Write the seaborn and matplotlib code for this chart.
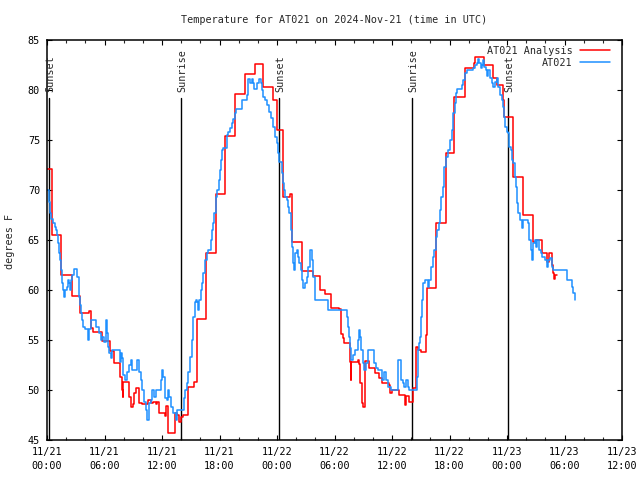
import matplotlib
matplotlib.use("Agg")
import matplotlib.pyplot as plt
import matplotlib.ticker as tkr
import seaborn as sns
import pandas as pd

# hours since 2024-11-21 00:00 UTC, temperature in degrees F
analysis_hr = [0.0, 0.55, 1.5, 2.6, 3.44, 4.42, 4.56, 4.83, 5.70, 6.57, 6.99, 7.62, 7.79, 7.90,
               7.97, 8.59, 8.77, 8.94, 9.11, 9.25, 9.63, 9.88, 10.57, 10.82, 11.1, 11.37, 11.51,
               11.72, 12.35, 12.45, 12.62, 13.4, 13.6, 13.81, 13.95, 14.16, 14.68, 14.75, 15.34,
               15.62, 16.56, 17.64, 18.57, 19.62, 20.66, 21.7, 22.57, 23.61, 23.96, 24.59, 25.4,
               25.53, 26.57, 27.79, 28.49, 29.04, 29.64, 30.5, 30.68, 30.85, 31.02, 31.62, 31.67,
               31.76, 32.42, 32.52, 32.66, 32.87, 33.0, 33.15, 33.22, 33.63, 34.2, 34.61, 34.96,
               35.65, 35.79, 36.0, 36.77, 37.39, 37.46, 37.8, 38.23, 38.5, 38.7, 39.03, 39.55,
               39.65, 40.62, 41.6, 42.5, 43.62, 44.56, 44.66, 45.6, 46.51, 46.99, 47.55, 47.69,
               48.66, 49.63, 50.68, 51.0, 51.62, 52.21, 52.4, 52.66, 52.76, 52.9, 53.05, 53.18]
analysis_temp = [72.1, 65.5, 61.5, 59.4, 57.7, 57.9, 56.2, 55.8, 54.9, 53.9, 52.7, 51.3, 50.0, 49.3,
                 50.8, 49.3, 48.3, 48.6, 49.7, 50.2, 48.7, 48.6, 49.0, 48.7, 48.8, 48.6, 48.8,
                 47.7, 47.4, 48.4, 45.7, 47.7, 47.5, 46.8, 47.3, 47.5, 50.0, 50.3, 50.8,
                 57.1, 63.7, 69.6, 75.4, 79.6, 81.6, 82.6, 80.3, 79.0, 76.0, 69.3, 69.6,
                 64.8, 61.9, 61.4, 60.0, 59.6, 58.2, 58.1, 55.6, 55.2, 54.7, 52.8, 51.0,
                 52.8, 53.0, 52.6, 50.7, 48.7, 48.3, 50.0, 52.9, 52.2, 51.7, 51.2, 50.7,
                 50.5, 49.7, 50.0, 49.5, 48.5, 49.4, 48.8, 50.2, 54.3, 54.0, 53.8, 55.5,
                 60.2, 66.7, 73.7, 79.3, 82.2, 82.7, 83.3, 82.5, 81.2, 80.5, 79.0, 77.3,
                 71.3, 67.5, 64.8, 65.0, 63.7, 62.8, 63.7, 62.5, 61.7, 61.1, 61.5, 61.5]

station_hr = [0.0, 0.21, 0.31, 0.45, 0.66, 0.8, 0.94, 1.08, 1.15, 1.29, 1.36, 1.43, 1.6, 1.7, 1.77,
              1.84, 2.05, 2.19, 2.3, 2.4, 2.54, 2.64, 2.82, 3.09, 3.34, 3.44, 3.58, 3.69, 3.79,
              3.93, 4.28, 4.38, 4.56, 4.63, 5.08, 5.43, 5.6, 5.77, 5.95, 6.12, 6.23, 6.37, 6.47,
              6.64, 6.82, 7.62, 7.76, 7.86, 7.97, 8.11, 8.32, 8.56, 8.73, 8.91, 9.43, 9.6, 9.78,
              9.95, 10.12, 10.3, 10.47, 10.64, 10.82, 10.99, 11.17, 11.34, 11.93, 12.04, 12.14,
              12.28, 12.49, 12.63, 12.73, 12.9, 13.18, 13.43, 13.53, 14.3, 14.4, 14.57, 14.75,
              14.92, 15.1, 15.27, 15.44, 15.55, 15.69, 15.79, 15.9, 16.03, 16.14, 16.31, 16.49,
              16.66, 16.83, 17.08, 17.18, 17.36, 17.46, 17.64, 17.77, 17.91, 18.05, 18.12, 18.26,
              18.4, 18.75, 18.92, 19.1, 19.27, 19.44, 19.62, 19.72, 20.31, 20.83, 21.01, 21.18,
              21.35, 21.46, 21.6, 21.95, 22.16, 22.3, 22.4, 22.57, 22.75, 22.99, 23.2, 23.34,
              23.55, 23.79, 23.96, 24.14, 24.24, 24.49, 24.59, 24.73, 24.83, 25.01, 25.18, 25.28,
              25.42, 25.53, 25.63, 25.77, 25.88, 26.05, 26.23, 26.33, 26.47, 26.57, 26.75, 26.92,
              27.1, 27.27, 27.44, 27.62, 27.79, 27.97, 29.29, 31.27, 31.37, 31.48, 31.62, 31.76,
              31.97, 32.17, 32.42, 32.59, 32.7, 32.77, 32.94, 33.11, 33.29, 33.46, 34.16, 34.33,
              34.51, 34.96, 35.2, 35.37, 35.55, 35.9, 36.59, 36.94, 37.11, 37.29, 37.46, 37.63,
              37.81, 38.57, 38.68, 38.78, 38.92, 39.03, 39.13, 39.27, 39.48, 39.73, 39.9, 40.07,
              40.24, 40.42, 40.59, 40.69, 40.87, 41.01, 41.11, 41.29, 41.46, 41.64, 41.81, 42.05,
              42.23, 42.4, 42.58, 42.68, 42.82, 43.27, 43.45, 43.62, 43.79, 44.42, 44.66, 44.9,
              45.01, 45.11, 45.25, 45.35, 45.53, 45.63, 45.81, 45.95, 46.05, 46.23, 46.4, 46.58,
              46.75, 46.92, 47.1, 47.27, 47.44, 47.62, 47.72, 47.83, 47.97, 48.14, 48.25, 48.39,
              48.49, 48.66, 48.84, 48.94, 49.01, 49.18, 49.36, 49.53, 49.71, 50.23, 50.33, 50.47,
              50.58, 50.75, 50.92, 51.03, 51.17, 51.37, 51.51, 51.62, 51.97, 52.14, 52.31, 52.49,
              52.66, 52.83, 54.3, 54.75, 54.92, 55.1]
station_temp = [70.0, 68.8, 67.7, 67.1, 66.7, 66.3, 66.0, 65.5, 64.7, 63.7, 63.0, 62.0, 60.7, 60.0, 59.3,
                60.0, 60.3, 61.0, 60.7, 60.0, 61.0, 61.5, 62.1, 61.3, 59.3, 58.5, 57.7, 57.0, 56.3,
                56.1, 55.0, 56.1, 56.7, 57.0, 56.3, 55.7, 55.0, 55.3, 54.8, 57.0, 55.7, 54.3, 53.7,
                53.2, 54.0, 52.8, 53.7, 53.2, 51.5, 51.0, 51.8, 52.5, 53.0, 52.0, 53.0, 51.8, 51.0,
                50.0, 48.8, 48.0, 47.0, 48.7, 49.0, 50.0, 49.3, 50.0, 51.0, 52.0, 51.3,
                49.2, 49.0, 50.0, 49.3, 48.3, 47.7, 47.0, 48.0, 49.2, 50.0, 50.7, 51.8,
                53.3, 55.0, 57.3, 58.8, 59.0, 58.8, 58.0, 59.0, 60.0, 60.7, 61.7, 63.0,
                63.7, 64.0, 65.0, 66.0, 66.7, 67.7, 69.3, 70.0, 71.0, 72.0, 73.0, 74.0,
                74.2, 75.5, 75.8, 76.2, 76.7, 77.1, 77.7, 78.1, 79.0, 79.5, 81.1, 80.7,
                81.1, 80.7, 80.1, 80.7, 81.1, 80.7, 80.0, 79.3, 79.0, 78.5, 77.8, 77.2,
                76.3, 75.3, 74.7, 73.7, 72.8, 71.7, 70.7, 70.0, 69.3, 69.0, 68.3, 67.7,
                66.0, 64.3, 62.7, 62.0, 63.7, 64.0, 63.3, 62.7, 62.0, 61.0, 60.2, 60.7,
                61.3, 62.3, 64.0, 63.0, 61.3, 59.0, 58.0, 57.3, 56.3, 55.3, 54.2, 53.0,
                53.5, 54.0, 55.0, 56.0, 55.3, 54.0, 52.7, 52.0, 52.7, 54.0, 52.7, 52.2,
                52.0, 51.0, 51.8, 51.0, 50.3, 50.0, 53.0, 51.0, 50.7, 50.3, 51.0, 50.3,
                50.0, 51.3, 54.0, 54.7, 55.3, 57.3, 59.0, 60.7, 61.0, 60.3, 61.0, 62.3,
                63.3, 64.0, 65.3, 66.0, 66.7, 68.0, 69.3, 70.3, 72.3, 73.3, 74.0, 75.0,
                76.0, 77.7, 78.7, 79.7, 80.1, 80.5, 81.0, 81.7, 82.0, 82.2, 82.5, 82.7,
                83.1, 82.7, 82.2, 82.5, 83.0, 82.3, 82.0, 81.4, 82.0, 81.2, 80.7, 80.3,
                80.8, 81.2, 80.3, 79.5, 79.0, 78.3, 77.3, 76.3, 75.8, 75.7, 74.3, 74.0,
                73.0, 72.7, 71.3, 70.3, 68.7, 67.7, 67.0, 66.2, 67.0, 66.7, 65.0, 64.0,
                63.0, 64.7, 65.0, 64.3, 65.0, 64.0, 63.7, 63.3, 63.0, 62.3, 63.0, 63.2,
                62.3, 62.0, 61.0, 60.3, 59.7, 59.0]

sun_hr = [0.24, 13.99, 24.24, 38.05, 48.14]
sun_label = ["Sunset", "Sunrise", "Sunset", "Sunrise", "Sunset"]

tick_hr = [0, 6, 12, 18, 24, 30, 36, 42, 48, 54, 60]
tick_lbl = ["11/21\n00:00", "11/21\n06:00", "11/21\n12:00", "11/21\n18:00",
            "11/22\n00:00", "11/22\n06:00", "11/22\n12:00", "11/22\n18:00",
            "11/23\n00:00", "11/23\n06:00", "11/23\n12:00"]

sns.set_theme(style="ticks")
plt.rcParams['font.family'] = ['DejaVu Sans Mono']
fsz = 7.3

anl = pd.DataFrame({"hr": analysis_hr, "temp": analysis_temp})
stn = pd.DataFrame({"hr": station_hr, "temp": station_temp})

f = plt.figure(figsize=(6.4, 4.8), dpi=100)
ax = f.add_axes([47/640, 40/480, 575/640, 400/480])

sns.lineplot(data=anl, x="hr", y="temp", ax=ax, color="#ff0000", lw=1.1,
             drawstyle="steps-post", estimator=None, label="AT021 Analysis")
sns.lineplot(data=stn, x="hr", y="temp", ax=ax, color="#1e90ff", lw=1.1,
             drawstyle="steps-post", estimator=None, label="AT021")

for h, lbl in zip(sun_hr, sun_label):
    ax.plot([h, h], [45, 79.2], color="black", lw=1.0, zorder=1)
    ax.text(h + 0.15, 79.8, lbl, rotation=90, ha="center", va="bottom", fontsize=fsz)

ax.set_xlim(0, 60)
ax.set_ylim(45, 85)
ax.set_xticks(tick_hr)
ax.set_xticklabels(tick_lbl, fontsize=fsz)
for t in ax.get_xticklabels():
    t.set_linespacing(1.5)
ax.xaxis.set_minor_locator(tkr.MultipleLocator(2))
ax.set_yticks(range(45, 86, 5))
ax.set_yticklabels([str(v) for v in range(45, 86, 5)], fontsize=fsz)
ax.tick_params(which="major", direction="in", top=True, right=True,
               length=3.8, width=0.8, pad=5, colors="black")
ax.tick_params(which="minor", direction="in", top=True, right=False,
               length=2.2, width=0.8)
ax.tick_params(axis="y", which="minor", left=False, right=False)
for sp in ax.spines.values():
    sp.set_visible(True)
    sp.set_linewidth(1.1)
    sp.set_color("black")
ax.set_xlabel("")
ax.set_ylabel("")

ax.legend(loc="upper right", bbox_to_anchor=(610/640, 1 - 46/480),
          bbox_transform=f.transFigure, frameon=False, markerfirst=False,
          fontsize=fsz, handlelength=3.0, handletextpad=0.7, labelspacing=0.15,
          borderpad=0, borderaxespad=0)

f.text(334.5/640, 1 - 20/480, "Temperature for AT021 on 2024-Nov-21 (time in UTC)",
       ha="center", va="center", fontsize=fsz)
f.text(10/640, 1 - 241/480, "degrees F", rotation=90, ha="center", va="center", fontsize=fsz)

f.savefig("out.png", dpi=100)
